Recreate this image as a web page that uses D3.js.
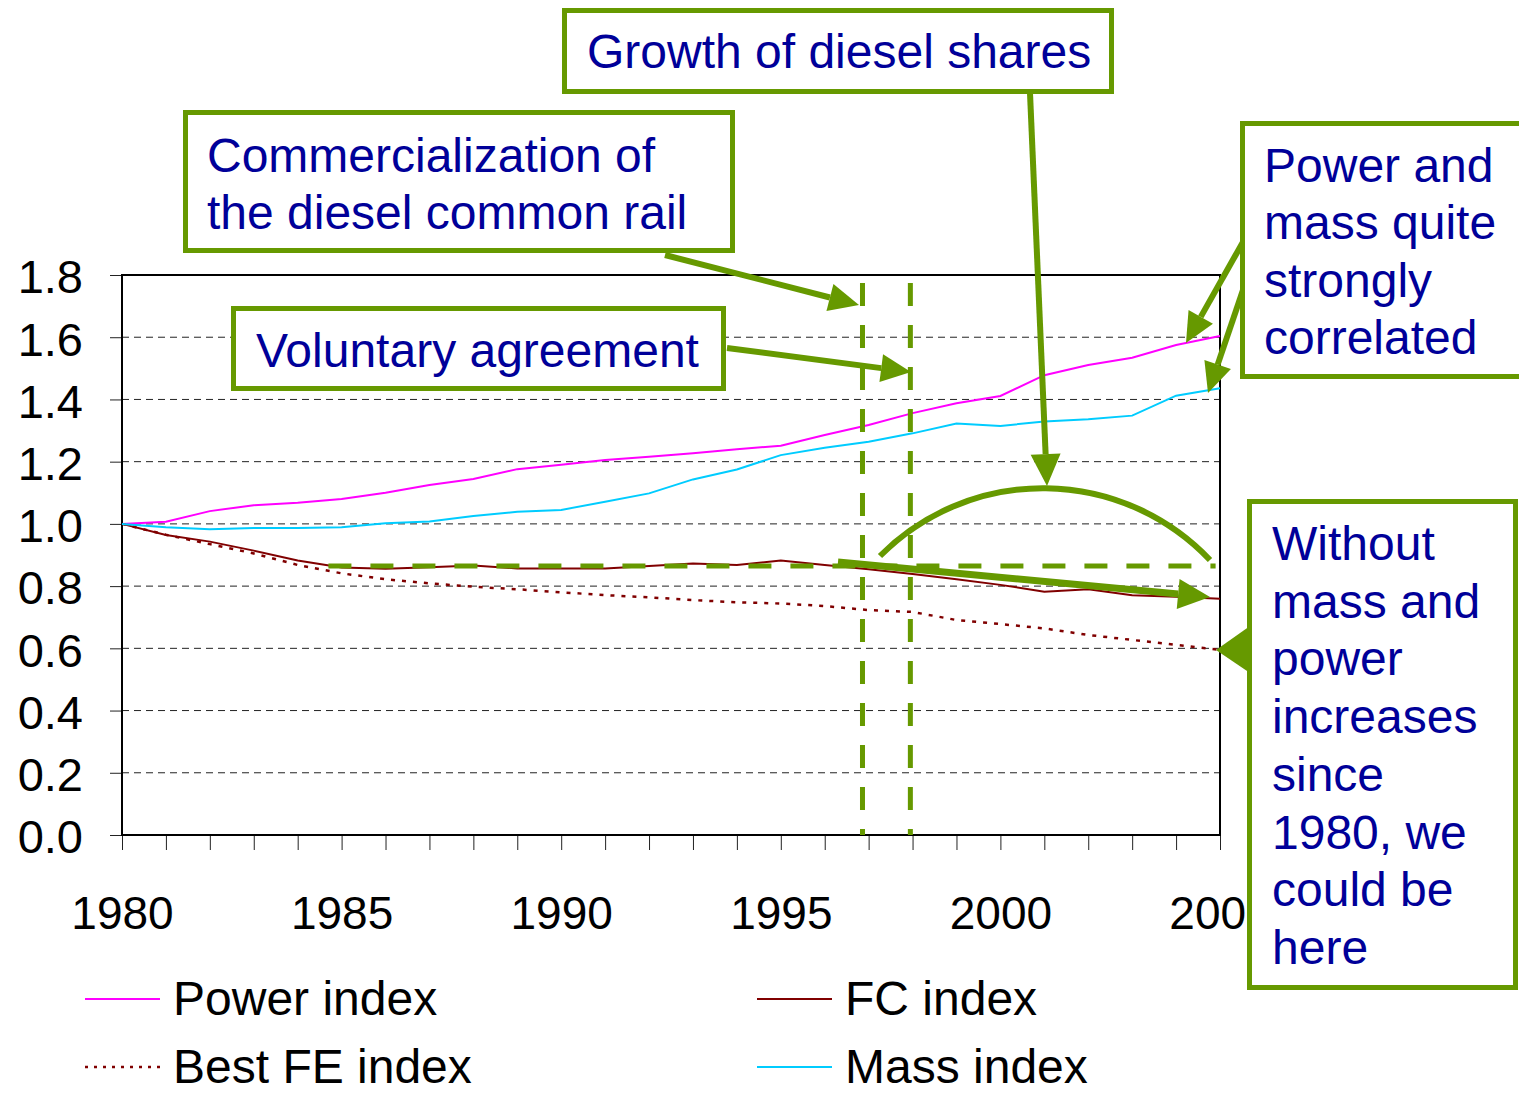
<!DOCTYPE html>
<html><head><meta charset="utf-8">
<script src="https://cdnjs.cloudflare.com/ajax/libs/d3/7.8.5/d3.min.js"></script>
<style>
html,body{margin:0;padding:0;background:#fff;}
svg text{font-family:"Liberation Sans",Arial,Helvetica,sans-serif;}
</style></head>
<body>
<svg id="chart" width="1519" height="1094"></svg>
<script>
const years = d3.range(1980, 2006);
const powerIndex = [1.0, 1.007, 1.041, 1.06, 1.068, 1.08, 1.10, 1.125, 1.144, 1.176, 1.19, 1.205, 1.216, 1.227, 1.24, 1.251, 1.286, 1.318, 1.356, 1.388, 1.411, 1.478, 1.511, 1.534, 1.575, 1.604];
const massIndex = [1.0, 0.989, 0.983, 0.987, 0.987, 0.989, 1.002, 1.008, 1.025, 1.039, 1.045, 1.071, 1.098, 1.143, 1.175, 1.221, 1.245, 1.264, 1.291, 1.323, 1.315, 1.329, 1.336, 1.348, 1.412, 1.436];
const fcIndex = [1.0, 0.964, 0.943, 0.914, 0.882, 0.86, 0.856, 0.861, 0.866, 0.857, 0.857, 0.857, 0.865, 0.873, 0.868, 0.882, 0.868, 0.854, 0.839, 0.822, 0.804, 0.782, 0.79, 0.771, 0.766, 0.759];
const bestFEIndex = [1.0, 0.965, 0.935, 0.905, 0.868, 0.841, 0.822, 0.809, 0.798, 0.79, 0.78, 0.771, 0.764, 0.755, 0.748, 0.744, 0.736, 0.723, 0.717, 0.691, 0.678, 0.664, 0.643, 0.627, 0.611, 0.595];
const yTicks = [0, 0.2, 0.4, 0.6, 0.8, 1.0, 1.2, 1.4, 1.6, 1.8];
const xLabelYears = [1980, 1985, 1990, 1995, 2000, 2005];
const seriesNames = ["Power index", "FC index", "Best FE index", "Mass index"];

const GREEN = "#669900", NAVY = "#000099";
const svg = d3.select("#chart");
const pLeft = 122, pRight = 1220, pTop = 275, pBottom = 835;
const x = d3.scaleLinear().domain([1980, 2005]).range([pLeft, pRight]);
const y = d3.scaleLinear().domain([0, 1.8]).range([pBottom, pTop]);

// gridlines
svg.append("g").selectAll("line").data(yTicks.filter(v => v > 0 && v < 1.8)).join("line")
  .attr("x1", pLeft).attr("x2", pRight).attr("y1", d => y(d)).attr("y2", d => y(d))
  .attr("stroke", "#222").attr("stroke-width", 1).attr("stroke-dasharray", "7,5");

// axes
const xAxis = d3.axisBottom(x).tickValues(years).tickSize(15).tickPadding(46)
  .tickFormat(d => xLabelYears.includes(d) ? String(d) : "");
const gx = svg.append("g").attr("transform", `translate(0,${pBottom})`).call(xAxis);
gx.select(".domain").remove();
gx.selectAll(".tick line").attr("stroke", "#222").attr("stroke-width", 1);
gx.selectAll("text").attr("font-size", 46).attr("fill", "#000");

const yAxis = d3.axisLeft(y).tickValues(yTicks).tickSize(12).tickPadding(27).tickFormat(d3.format(".1f"));
const gy = svg.append("g").attr("transform", `translate(${pLeft},0)`).call(yAxis);
gy.select(".domain").remove();
gy.selectAll(".tick line").attr("stroke", "#222").attr("stroke-width", 1);
gy.selectAll("text").attr("font-size", 47).attr("fill", "#000").attr("dy", "0.38em");

// plot border
svg.append("rect").attr("x", pLeft).attr("y", pTop).attr("width", pRight - pLeft).attr("height", pBottom - pTop)
  .attr("fill", "none").attr("stroke", "#000").attr("stroke-width", 2);

// series
const line = d3.line().x((d, i) => x(years[i])).y(d => y(d));
const series = [
  {name: seriesNames[0], data: powerIndex, color: "#FF00FF", dash: null},
  {name: seriesNames[1], data: fcIndex, color: "#800000", dash: null},
  {name: seriesNames[2], data: bestFEIndex, color: "#800000", dash: "4,7"},
  {name: seriesNames[3], data: massIndex, color: "#00CCFF", dash: null}
];
svg.append("g").selectAll("path").data(series).join("path")
  .attr("d", d => line(d.data)).attr("fill", "none")
  .attr("stroke", d => d.color).attr("stroke-width", d => d.dash ? 2.5 : 2)
  .attr("stroke-dasharray", d => d.dash);

// legend
const legendPos = [[85, 999], [757, 999], [85, 1067], [757, 1067]];
const lg = svg.append("g").selectAll("g").data(series).join("g")
  .attr("transform", (d, i) => `translate(${legendPos[i][0]},${legendPos[i][1]})`);
lg.append("line").attr("x1", 0).attr("x2", 75).attr("y1", 0).attr("y2", 0)
  .attr("stroke", d => d.color).attr("stroke-width", d => d.dash ? 2.5 : 2).attr("stroke-dasharray", d => d.dash ? "3,6" : null);
lg.append("text").attr("x", 88).attr("y", 16).attr("font-size", 48).attr("fill", "#000").text(d => d.name);

// ---- annotations ----
const ann = svg.append("g");
const dashG = "23,19";
[1996.86, 1997.95].forEach(yr => {
  ann.append("line").attr("x1", x(yr)).attr("x2", x(yr)).attr("y1", 283).attr("y2", pBottom)
    .attr("stroke", GREEN).attr("stroke-width", 5).attr("stroke-dasharray", dashG);
});
ann.append("line").attr("x1", x(1984.7)).attr("x2", x(2004.9)).attr("y1", y(0.865)).attr("y2", y(0.865))
  .attr("stroke", GREEN).attr("stroke-width", 5).attr("stroke-dasharray", dashG);
ann.append("path").attr("d", "M880,556 A230,230 0 0 1 1210,560")
  .attr("fill", "none").attr("stroke", GREEN).attr("stroke-width", 6);

function arrow(x1, y1, x2, y2, w, hl, hw) {
  const a = Math.atan2(y2 - y1, x2 - x1);
  const bx = x2 - hl * Math.cos(a), by = y2 - hl * Math.sin(a);
  ann.append("line").attr("x1", x1).attr("y1", y1).attr("x2", bx).attr("y2", by)
    .attr("stroke", GREEN).attr("stroke-width", w);
  const px = -Math.sin(a) * hw / 2, py = Math.cos(a) * hw / 2;
  ann.append("path").attr("d", `M${x2},${y2} L${bx + px},${by + py} L${bx - px},${by - py} Z`).attr("fill", GREEN);
}
arrow(838, 562, 1210, 597, 7, 32, 30);
arrow(1030, 93, 1047, 486, 6, 32, 30);
arrow(665, 255, 859, 305, 6, 30, 28);
arrow(727, 348, 911, 372, 6, 30, 28);
arrow(1243, 242, 1186, 343, 6, 30, 28);
arrow(1243, 290, 1208, 393, 6, 30, 28);

function box(x0, y0, x1, y1, lines, tx, ty0, lh) {
  ann.append("rect").attr("x", x0 + 2.5).attr("y", y0 + 2.5).attr("width", x1 - x0 - 5).attr("height", y1 - y0 - 5)
    .attr("fill", "#fff").attr("stroke", GREEN).attr("stroke-width", 5);
  const t = ann.append("text").attr("font-size", 48).attr("fill", NAVY);
  lines.forEach((s, i) => t.append("tspan").attr("x", tx).attr("y", ty0 + i * lh).text(s));
}
box(562, 8, 1114, 94, ["Growth of diesel shares"], 587, 68, 0);
box(183, 110, 735, 253, ["Commercialization of", "the diesel common rail"], 207, 172, 57);
box(231, 306, 726, 391, ["Voluntary agreement"], 256, 367, 0);
box(1240, 121, 1530, 379, ["Power and", "mass quite", "strongly", "correlated"], 1264, 182, 57.3);
box(1247, 499, 1518, 990, ["Without", "mass and", "power", "increases", "since", "1980, we", "could be", "here"], 1272, 560, 57.7);
ann.append("path").attr("d", "M1250,626 L1216,650 L1250,673 Z").attr("fill", GREEN);
</script>
</body></html>
